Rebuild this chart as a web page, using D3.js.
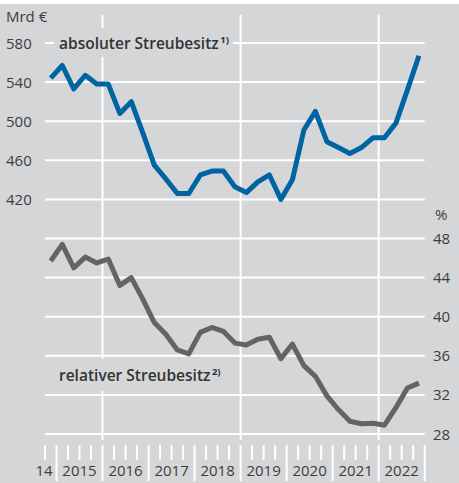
<!DOCTYPE html>
<html>
<head>
<meta charset="utf-8">
<script src="https://cdn.jsdelivr.net/npm/d3@7/dist/d3.min.js"></script>
<style>
  body { margin: 0; background: #fff; }
  svg { display: block; }
  text { font-family: "Open Sans", sans-serif; }
</style>
</head>
<body>
<svg id="chart"></svg>
<script>
// quarterly values, 2014 Q4 .. 2022 Q4
const quarters = [
  "2014 Q4",
  "2015 Q1", "2015 Q2", "2015 Q3", "2015 Q4",
  "2016 Q1", "2016 Q2", "2016 Q3", "2016 Q4",
  "2017 Q1", "2017 Q2", "2017 Q3", "2017 Q4",
  "2018 Q1", "2018 Q2", "2018 Q3", "2018 Q4",
  "2019 Q1", "2019 Q2", "2019 Q3", "2019 Q4",
  "2020 Q1", "2020 Q2", "2020 Q3", "2020 Q4",
  "2021 Q1", "2021 Q2", "2021 Q3", "2021 Q4",
  "2022 Q1", "2022 Q2", "2022 Q3", "2022 Q4"
];
// absoluter Streubesitz, Mrd €
const absolut = [544, 557, 533, 547, 538, 538, 508, 520, 488, 455, 441, 426,
  426, 445, 449, 449, 433, 427, 438, 445, 420, 440, 491, 510,
  479, 473, 467, 473, 483, 483, 498, 532, 567];
// relativer Streubesitz, %
const relativ = [45.7, 47.4, 45.0, 46.1, 45.5, 45.9, 43.2, 44.0, 41.8, 39.4, 38.2, 36.6,
  36.2, 38.4, 38.9, 38.5, 37.3, 37.1, 37.7, 37.9, 35.7, 37.2, 35.0, 33.9,
  31.9, 30.5, 29.3, 29.05, 29.1, 28.9, 30.7, 32.7, 33.2];

const yearLabels = ["14", "2015", "2016", "2017", "2018", "2019", "2020", "2021", "2022"];
const leftTicks = [580, 540, 500, 460, 420];
const rightTicks = [48, 44, 40, 36, 32, 28];
const gridYears = [2016, 2019, 2022];

const width = 459, height = 483;
const bg = "#d5d6d8";
const textColor = "#3d3d3d";

const svg = d3.select("#chart").attr("width", width).attr("height", height);

svg.append("rect")
  .attr("x", 0).attr("y", 4)
  .attr("width", width).attr("height", height - 4)
  .attr("fill", bg);

// quarter -> fractional year (middle of quarter)
function qMid(q) {
  const y = +q.slice(0, 4), n = +q.slice(6);
  return y + (n - 1) / 4 + 0.125;
}

const x = d3.scaleLinear().domain([2014.75, 2023]).range([45, 424.7]);
const yLeft = d3.scaleLinear().domain([580, 180]).range([43, 434]);
const yRight = d3.scaleLinear().domain([68, 28]).range([43, 434]);

// horizontal grid lines
svg.append("g").selectAll("line")
  .data(d3.range(180, 581, 40))
  .enter().append("line")
  .attr("x1", x(2014.75)).attr("x2", x(2023))
  .attr("y1", d => yLeft(d)).attr("y2", d => yLeft(d))
  .attr("stroke", "#fff").attr("stroke-width", 2);

// vertical grid lines
svg.append("g").selectAll("line")
  .data(gridYears)
  .enter().append("line")
  .attr("x1", d => x(d)).attr("x2", d => x(d))
  .attr("y1", 15).attr("y2", 440)
  .attr("stroke", "#fff").attr("stroke-width", 2);

// x axis ticks (quarters, years longer)
const qTicks = d3.range(0, 34).map(i => 2014.75 + i * 0.25);
svg.append("g").selectAll("line")
  .data(qTicks)
  .enter().append("line")
  .attr("x1", d => x(d)).attr("x2", d => x(d))
  .attr("y1", 445)
  .attr("y2", d => Number.isInteger(d) ? 481 : 460)
  .attr("stroke", "#fff").attr("stroke-width", 2);

// year labels
svg.append("g").selectAll("text")
  .data(yearLabels)
  .enter().append("text")
  .attr("x", (d, i) => i === 0 ? x(2014.75) - 1 : x(2014 + i + 0.5))
  .attr("y", 476)
  .attr("text-anchor", "middle")
  .attr("font-size", 15)
  .attr("fill", textColor)
  .text(d => d);

// left axis labels
svg.append("g").selectAll("text")
  .data(leftTicks)
  .enter().append("text")
  .attr("x", 6).attr("y", d => yLeft(d) + 5.5)
  .attr("font-size", 15).attr("fill", textColor)
  .text(d => d);
svg.append("text").attr("x", 6).attr("y", 22)
  .attr("font-size", 15).attr("fill", textColor).text("Mrd €");

// right axis labels
svg.append("g").selectAll("text")
  .data(rightTicks)
  .enter().append("text")
  .attr("x", 433).attr("y", d => yRight(d) + 5.5)
  .attr("font-size", 15).attr("fill", textColor)
  .text(d => d);
svg.append("text").attr("x", 435).attr("y", 220)
  .attr("font-size", 15).attr("fill", textColor).text("%");

// series labels with background boxes
function seriesLabel(txt, sup, lx, ly, box) {
  svg.append("rect")
    .attr("x", box[0]).attr("y", box[1])
    .attr("width", box[2]).attr("height", box[3])
    .attr("fill", bg);
  const t = svg.append("text")
    .attr("x", lx).attr("y", ly)
    .attr("font-size", 15.5).attr("font-weight", 600)
    .attr("fill", "#333");
  t.append("tspan").text(txt);
  t.append("tspan").attr("dy", -6).attr("dx", 1.5)
    .attr("font-size", 9.5).attr("font-weight", 700).text(sup);
}
seriesLabel("absoluter Streubesitz", "1)", 59, 49, [54, 28, 179, 29]);
seriesLabel("relativer Streubesitz", "2)", 59, 381, [54, 359, 172, 32]);

// lines
const lineAbs = d3.line()
  .x((d, i) => x(qMid(quarters[i])))
  .y(d => yLeft(d));
const lineRel = d3.line()
  .x((d, i) => x(qMid(quarters[i])))
  .y(d => yRight(d));

svg.append("path")
  .datum(relativ)
  .attr("d", lineRel)
  .attr("fill", "none")
  .attr("stroke", "#646464")
  .attr("stroke-width", 5)
  .attr("stroke-linejoin", "round");

svg.append("path")
  .datum(absolut)
  .attr("d", lineAbs)
  .attr("fill", "none")
  .attr("stroke", "#0064a2")
  .attr("stroke-width", 5)
  .attr("stroke-linejoin", "round");
</script>
</body>
</html>
